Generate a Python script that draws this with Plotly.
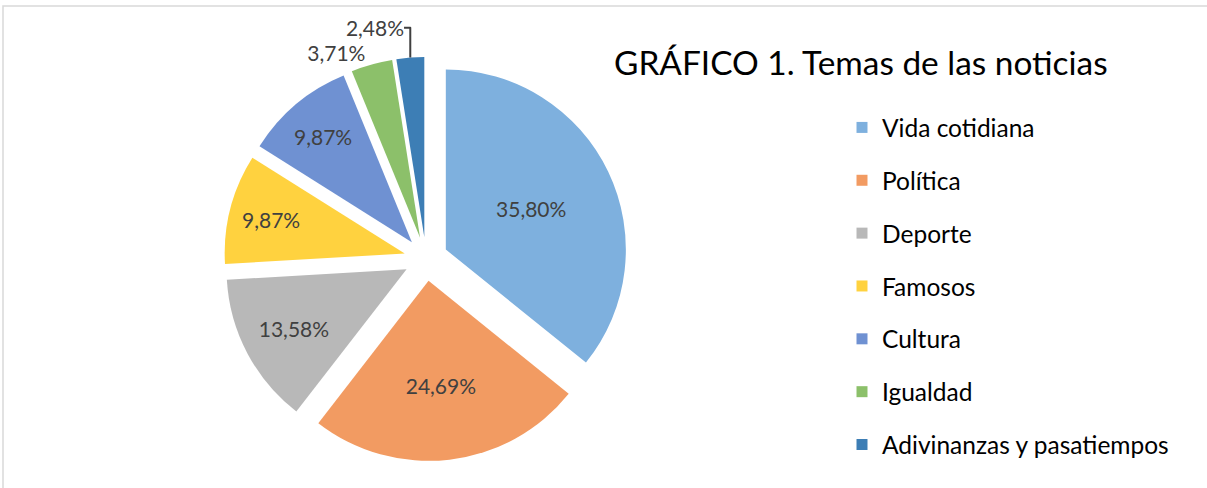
import plotly.graph_objects as go

categories = ["Vida cotidiana", "Política", "Deporte", "Famosos", "Cultura",
              "Igualdad", "Adivinanzas y pasatiempos"]
values = [35.80, 24.69, 13.58, 9.87, 9.87, 3.71, 2.48]
colors = ["#7EB0DE", "#F29B62", "#B8B8B8", "#FFD23F", "#6F91D2", "#8CC06A", "#3D7EB5"]
text_positions = ["inside", "inside", "inside", "inside", "inside", "outside", "outside"]

W, H = 1207, 488
cx, cy, half = 426, 259, 202

fig = go.Figure()
fig.add_trace(go.Pie(
    labels=categories, values=values, sort=False, direction="clockwise", rotation=0,
    pull=[0.122] * len(values),
    marker=dict(colors=colors, line=dict(width=0)),
    texttemplate="%{value:.2f}%", textposition=text_positions,
    insidetextorientation="horizontal",
    textfont=dict(family="Lato", size=21, color="#404040"),
    showlegend=False, hoverinfo="label+percent",
    domain=dict(x=[(cx - half) / W, (cx + half) / W],
                y=[(H - cy - half) / H, (H - cy + half) / H]),
))
for c, col in zip(categories, colors):
    fig.add_trace(go.Scatter(x=[None], y=[None], mode="markers", name=c,
                             legendgroup=c,
                             marker=dict(symbol="square", size=11, color=col)))

fig.update_layout(
    width=W, height=H, margin=dict(l=0, r=0, t=0, b=0, autoexpand=False),
    separators=",.",
    paper_bgcolor="white", plot_bgcolor="white",
    xaxis=dict(visible=False), yaxis=dict(visible=False),
    font=dict(family="Lato", color="#000000"),
    legend=dict(x=(882 - 40) / W, y=1 - 105 / H, xanchor="left", yanchor="top",
                font=dict(family="Lato", size=24.5, color="#000000"),
                tracegroupgap=18, bgcolor="rgba(0,0,0,0)"),
    annotations=[dict(text="GRÁFICO 1. Temas de las noticias", x=612 / W, y=1 - 62 / H,
                      xref="paper", yref="paper", xanchor="left", yanchor="middle",
                      showarrow=False, font=dict(family="Lato", size=33.4, color="#000000"))],
    shapes=[dict(type="rect", xref="paper", yref="paper", x0=3 / W, x1=1.02,
                 y0=-0.02, y1=1 - 6 / H, line=dict(color="#D9D9D9", width=1.5))],
)
fig.write_html("out.html", config={"displayModeBar": False},
               post_script="document.body.style.margin='0';")
